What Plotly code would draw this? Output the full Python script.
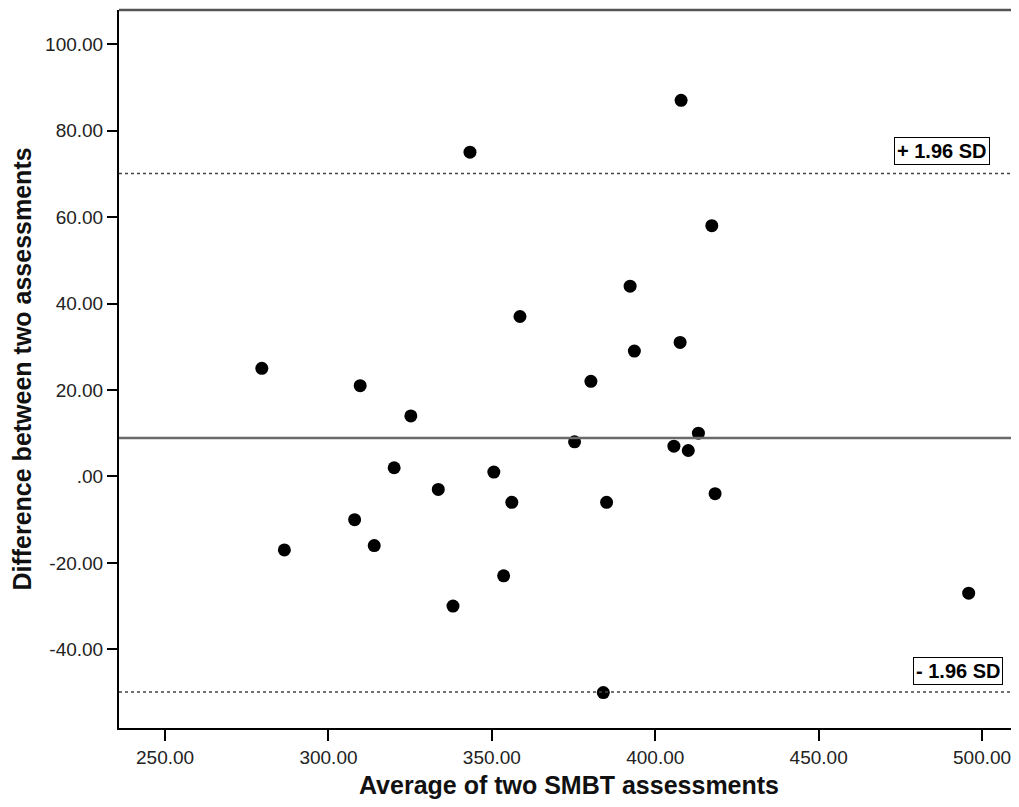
import plotly.graph_objects as go

# Data
avg_scores = [279.6, 286.5, 308.0, 309.7, 314.0, 320.1, 325.2, 333.6, 338.1, 343.3,
              350.6, 353.6, 356.1, 358.6, 375.3, 380.3, 384.1, 385.1, 392.3, 393.6,
              405.7, 407.9, 407.6, 410.1, 413.2, 417.3, 418.3, 495.9]
diff_scores = [25, -17, -10, 21, -16, 2, 14, -3, -30, 75,
               1, -23, -6, 37, 8, 22, -50, -6, 44, 29,
               7, 87, 31, 6, 10, 58, -4, -27]

mean_diff = 8.9
upper_loa = 70.1
lower_loa = -49.9

x_tickvals = [250, 300, 350, 400, 450, 500]
x_ticktext = ["250.00", "300.00", "350.00", "400.00", "450.00", "500.00"]
y_tickvals = [-40, -20, 0, 20, 40, 60, 80, 100]
y_ticktext = ["-40.00", "-20.00", ".00", "20.00", "40.00", "60.00", "80.00", "100.00"]

upper_label = "+ 1.96 SD"
lower_label = "- 1.96 SD"

FONT = "Liberation Sans, Arial, sans-serif"

fig = go.Figure()
fig.add_trace(go.Scatter(
    x=avg_scores, y=diff_scores, mode="markers",
    marker=dict(color="black", size=13, line=dict(width=0)),
    showlegend=False, hoverinfo="x+y", cliponaxis=False,
))

shapes = [
    dict(type="line", xref="paper", yref="y", x0=0, x1=1, y0=mean_diff, y1=mean_diff,
         line=dict(color="#6a6a6a", width=2.5)),
    dict(type="line", xref="paper", yref="y", x0=0, x1=1, y0=upper_loa, y1=upper_loa,
         line=dict(color="#444444", width=1.5, dash="3px,3px")),
    dict(type="line", xref="paper", yref="y", x0=0, x1=1, y0=lower_loa, y1=lower_loa,
         line=dict(color="#444444", width=1.5, dash="3px,3px")),
    dict(type="line", xref="paper", yref="paper", x0=0, x1=1, y0=1, y1=1,
         line=dict(color="#555555", width=2.5)),
]

annotations = [
    dict(x=502.4, y=upper_loa, xref="x", yref="y", text="<b>" + upper_label + "</b>",
         showarrow=False, xanchor="right", yanchor="bottom", yshift=8,
         font=dict(family=FONT, size=20, color="black"),
         bordercolor="black", borderwidth=1, borderpad=2, bgcolor="white"),
    dict(x=506.4, y=lower_loa, xref="x", yref="y", text="<b>" + lower_label + "</b>",
         showarrow=False, xanchor="right", yanchor="bottom", yshift=7,
         font=dict(family=FONT, size=20, color="black"),
         bordercolor="black", borderwidth=1, borderpad=2, bgcolor="white"),
]

# page body has an 8px margin, so the figure is offset by 8px
fig.update_layout(
    width=1011, height=791,
    margin=dict(l=111, r=0, t=2, b=71),
    paper_bgcolor="white", plot_bgcolor="white",
    shapes=shapes, annotations=annotations,
    font=dict(family=FONT, color="#222222"),
    xaxis=dict(
        range=[235.9, 511.3], tickvals=x_tickvals, ticktext=x_ticktext,
        showgrid=False, zeroline=False, showline=True, linecolor="black", linewidth=2,
        ticks="outside", ticklen=11, tickwidth=2, tickcolor="black",
        tickfont=dict(family=FONT, size=19, color="#222222"),
        title=dict(text="<b>Average of two SMBT assessments</b>", standoff=12,
                   font=dict(family=FONT, size=25, color="#111111")),
    ),
    yaxis=dict(
        range=[-58.2, 107.9], tickvals=y_tickvals, ticktext=y_ticktext,
        showgrid=False, zeroline=False, showline=True, linecolor="black", linewidth=2,
        ticks="outside", ticklen=10, tickwidth=2, tickcolor="black",
        tickfont=dict(family=FONT, size=19, color="#222222"),
        title=dict(text="<b>Difference between two assessments</b>", standoff=10,
                   font=dict(family=FONT, size=25, color="#111111")),
    ),
)

fig.write_html("out.html")
